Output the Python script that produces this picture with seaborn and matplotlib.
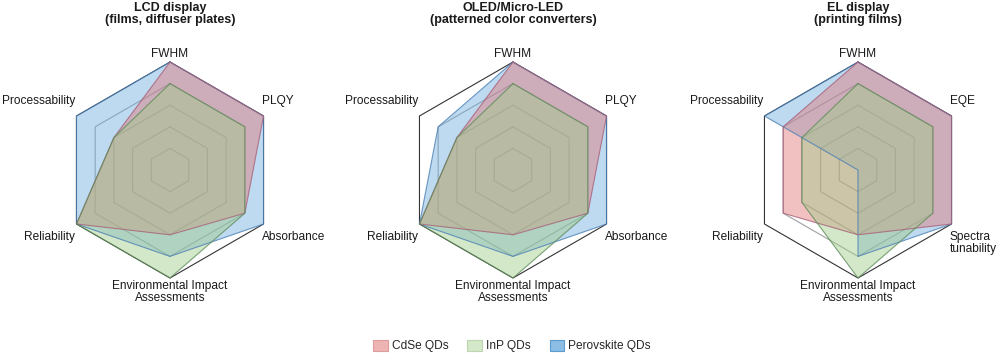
import matplotlib
matplotlib.use("Agg")
import matplotlib.pyplot as plt
from matplotlib.patches import Patch
import seaborn as sns
import numpy as np

# chart data (scores 0-5), axes go clockwise from FWHM at the top
panel_titles = ["LCD display\n(films, diffuser plates)",
                "OLED/Micro-LED\n(patterned color converters)",
                "EL display\n(printing films)"]
labels_pl = ["FWHM", "PLQY", "Absorbance", "Environmental Impact\nAssessments",
             "Reliability", "Processability"]
labels_el = ["FWHM", "EQE", "Spectra\ntunability", "Environmental Impact\nAssessments",
             "Reliability", "Processability"]
series_names = ["CdSe QDs", "InP QDs", "Perovskite QDs"]

lcd_cdse = [5, 5, 4, 3, 5, 3]
lcd_inp = [4, 4, 4, 5, 5, 3]
lcd_perov = [5, 5, 5, 4, 5, 5]

oled_cdse = [5, 5, 4, 3, 5, 3]
oled_inp = [4, 4, 4, 5, 5, 3]
oled_perov = [5, 5, 5, 4, 5, 4]

el_cdse = [5, 5, 5, 3, 4, 4]
el_inp = [4, 4, 4, 5, 3, 3]
el_perov = [5, 5, 5, 4, 0, 5]

grid_levels = [1, 2, 3, 4, 5]

panels = [
    (panel_titles[0], labels_pl, [lcd_cdse, lcd_inp, lcd_perov]),
    (panel_titles[1], labels_pl, [oled_cdse, oled_inp, oled_perov]),
    (panel_titles[2], labels_el, [el_cdse, el_inp, el_perov]),
]

fill_colors = ["#e07777", "#9fcc89", "#6fadde"]
edge_colors = ["#a8607a", "#5d8c5a", "#4a7fb5"]
draw_order = [2, 0, 1]  # perovskite at the bottom, InP on top

sns.set_theme(style="white")
plt.rcParams["font.family"] = ["Liberation Sans", "DejaVu Sans"]
FS = 8.6
FS_TITLE = 9

fig = plt.figure(figsize=(10, 3.6), dpi=100)

centers_x = [170, 513, 858]   # px
center_y = 170
radius = 108

n = len(labels_pl)
angles = np.linspace(0, 2 * np.pi, n, endpoint=False)
closed = np.append(angles, angles[0])

PT = 0.72  # points per pixel at dpi 100

for (title, labels, series), cx in zip(panels, centers_x):
    rect = [(cx - radius) / 1000, (360 - center_y - radius) / 360,
            2 * radius / 1000, 2 * radius / 360]
    ax = fig.add_axes(rect, projection="polar")
    ax.set_theta_offset(np.pi / 2)
    ax.set_theta_direction(-1)
    ax.set_ylim(0, 5)
    ax.set_xticks([])
    ax.set_yticks([])
    ax.grid(False)
    ax.spines["polar"].set_visible(False)
    ax.patch.set_alpha(0)

    # hexagonal grid
    for lvl in grid_levels:
        col = "#333333" if lvl == grid_levels[-1] else "#a0a0a0"
        ax.plot(closed, [lvl] * (n + 1), color=col, lw=0.8, clip_on=False, zorder=1)

    for i in draw_order:
        v = np.append(series[i], series[i][0])
        ax.fill(closed, v, facecolor=fill_colors[i], alpha=0.45, edgecolor="none",
                zorder=2, clip_on=False)
        ax.plot(closed, v, color=edge_colors[i], lw=0.8, alpha=0.8, zorder=3, clip_on=False)

    # category labels
    offsets = [
        (0, 5, "center", "baseline"),
        (-2, 9, "left", "bottom"),
        (-2, -7, "left", "top"),
        (0, -2, "center", "top"),
        (-1, -7, "right", "top"),
        (-1, 9, "right", "bottom"),
    ]
    for ang, lab, (dx, dy, ha, va) in zip(angles, labels, offsets):
        ax.annotate(lab, xy=(ang, 5), xytext=(dx * PT, dy * PT),
                    textcoords="offset points", ha=ha, va=va, fontsize=FS,
                    color="#1a1a1a", linespacing=1.0, annotation_clip=False,
                    multialignment="center" if ha == "center" else "left")

    fig.text(cx / 1000, 1 - 2 / 360, title, ha="center", va="top", fontsize=FS_TITLE,
             fontweight="bold", linespacing=1.0, color="#1a1a1a")

legend_faces = ["#eeb4b4", "#d4e8ca", "#8cbde5"]
legend_edges = ["#dc9c9c", "#bcd6b0", "#5a9ccf"]
handles = [Patch(facecolor=f, edgecolor=e, lw=0.8, label=s)
           for f, e, s in zip(legend_faces, legend_edges, series_names)]
fig.legend(handles=handles, loc="center", bbox_to_anchor=(0.512, 14 / 360), ncol=3,
           frameon=False, fontsize=FS, handlelength=1.2, handleheight=1.1,
           handletextpad=0.35, columnspacing=1.6)

fig.savefig("out.png", dpi=100)
